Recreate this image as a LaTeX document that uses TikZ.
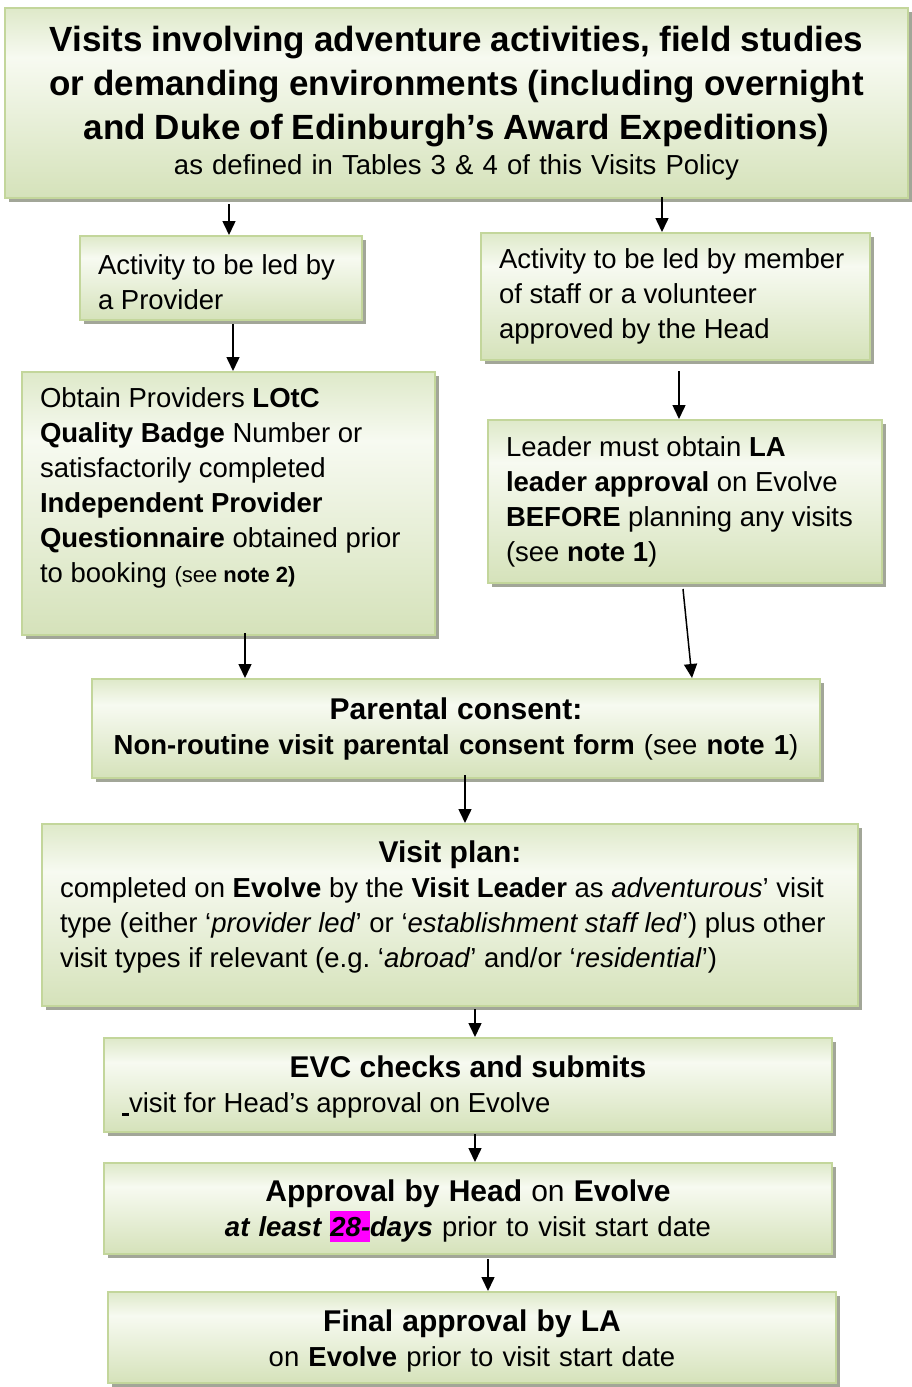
\documentclass[tikz,border=0pt]{standalone}
\usepackage{fontspec}
\setmainfont{Liberation Sans}
\usetikzlibrary{arrows.meta,shadows,positioning}

\definecolor{boxline}{RGB}{195,214,155}
\definecolor{boxtop}{RGB}{222,233,201}
\definecolor{boxmid}{RGB}{247,250,241}
\definecolor{boxbot}{RGB}{213,226,186}
\definecolor{boxshadow}{RGB}{162,166,152}
\definecolor{hilite}{RGB}{255,0,255}

\pgfdeclareverticalshading{boxshade}{100bp}{color(0bp)=(boxbot); color(25bp)=(boxbot); color(62bp)=(boxmid); color(75bp)=(boxtop); color(100bp)=(boxtop)}

\newcommand{\bodysize}{\fontsize{13.75pt}{17.5pt}\selectfont}
\newcommand{\headsize}{\fontsize{15pt}{18pt}\selectfont}
\newcommand{\titlesize}{\fontsize{17.5pt}{22pt}\selectfont}
\newcommand{\notesize}{\fontsize{11pt}{13pt}\selectfont}
\newcommand{\hlbox}[1]{{\setlength{\fboxsep}{0pt}\colorbox{hilite}{\rule[-3pt]{0pt}{15.5pt}#1}}}
\frenchspacing

\tikzset{
  box/.style={draw=boxline, line width=1pt, shading=boxshade, inner sep=0pt,
    drop shadow={shadow xshift=2pt, shadow yshift=-2pt, fill=boxshadow, opacity=1},
    font=\bodysize},
  arr/.style={-{Triangle[length=7pt,width=6.5pt]}, line width=0.75pt},
}

\begin{document}
\begin{tikzpicture}[x=0.5pt,y=-0.5pt]
\useasboundingbox (0,0) rectangle (911,1387);

\node[box, minimum width=451.5pt, minimum height=95pt, text width=433.5pt, align=center] (top) at (456.5,103)
  {{\titlesize\bfseries Visits involving adventure activities, field studies\\
   or demanding environments (including overnight\\
   and Duke of Edinburgh’s Award Expeditions)\par}
   as defined in Tables 3 \& 4 of this Visits Policy};

\node[box, minimum width=141pt, minimum height=42pt, text width=123pt, align=flush left] (prov) at (221,278)
  {\rule{0pt}{14pt}Activity to be led by\\ a Provider};
\node[box, minimum width=194.5pt, minimum height=63.5pt, text width=176.5pt, align=flush left] (staff) at (675.5,296.5)
  {Activity to be led by member\\ of staff or a volunteer\\ approved by the Head};

\node[box, minimum width=206.5pt, minimum height=131.5pt, text width=188.5pt, align=flush left] (lotc) at (228.5,503.5)
  {Obtain Providers \textbf{LOtC}\\ \textbf{Quality Badge} Number or\\ satisfactorily completed\\
   \textbf{Independent Provider}\\ \textbf{Questionnaire} obtained prior\\
   to booking {\notesize (see \textbf{note 2)}}\rule[-18pt]{0pt}{18pt}};
\node[box, minimum width=197pt, minimum height=81.5pt, text width=179pt, align=flush left] (la) at (685,501.5)
  {Leader must obtain \textbf{LA}\\ \textbf{leader approval} on Evolve\\
   \textbf{BEFORE} planning any visits\\ (see \textbf{note 1})};

\node[box, minimum width=364pt, minimum height=49.5pt, text width=346pt, align=center] (parent) at (456,728.5)
  {{\headsize\bfseries Parental consent:\par}
   \textbf{Non-routine visit parental consent form} (see \textbf{note 1})};

\node[box, minimum width=408pt, minimum height=91pt, text width=390pt, align=flush left] (plan) at (450,915)
  {{\centering\headsize\bfseries Visit plan:\par}
   completed on \textbf{Evolve} by the \textbf{Visit Leader} as \textit{adventurous}’ visit\\
   type (either ‘\textit{provider led}’ or ‘\textit{establishment staff led}’) plus other\\
   visit types if relevant (e.g. ‘\textit{abroad}’ and/or ‘\textit{residential}’)\rule[-11pt]{0pt}{11pt}};

\node[box, minimum width=364pt, minimum height=47pt, text width=346pt, align=flush left] (evc) at (468,1085)
  {{\centering\headsize\bfseries\rule{0pt}{13pt}EVC checks and submits\par}
   \rule[-1.5pt]{3.5pt}{1.2pt}visit for Head’s approval on Evolve};

\node[box, minimum width=364pt, minimum height=45.5pt, text width=346pt, align=center] (head) at (468,1208.5)
  {{\headsize\rule{0pt}{13pt}\textbf{Approval by Head} on \textbf{Evolve}\par}
   \textbf{\textit{at least \hlbox{28-}days}} prior to visit start date};

\node[box, minimum width=364pt, minimum height=45.5pt, text width=346pt, align=center] (final) at (472,1337.5)
  {{\headsize\bfseries\rule{0pt}{14pt}Final approval by LA\par}
   on \textbf{Evolve} prior to visit start date};

\foreach \src/\dst/\dx/\dy in {top/prov/4pt/-2.5pt, top/staff/-6.75pt/1pt, prov/lotc/2.25pt/-1.5pt,
    staff/la/-3pt/-5pt, lotc/parent/-105.5pt/1.5pt, parent/plan/7.5pt/2pt,
    plan/evc/3.5pt/-1pt, evc/head/3.5pt/-0.5pt, head/final/8pt/-2pt}
  \draw[arr] ([xshift=\dx,yshift=\dy]\dst.north |- \src.south) -- ([xshift=\dx]\dst.north);
\draw[arr] ([xshift=-1pt,yshift=-2.5pt]la.south) -- ([xshift=3.5pt]parent.north -| la.south);
\end{tikzpicture}
\end{document}
